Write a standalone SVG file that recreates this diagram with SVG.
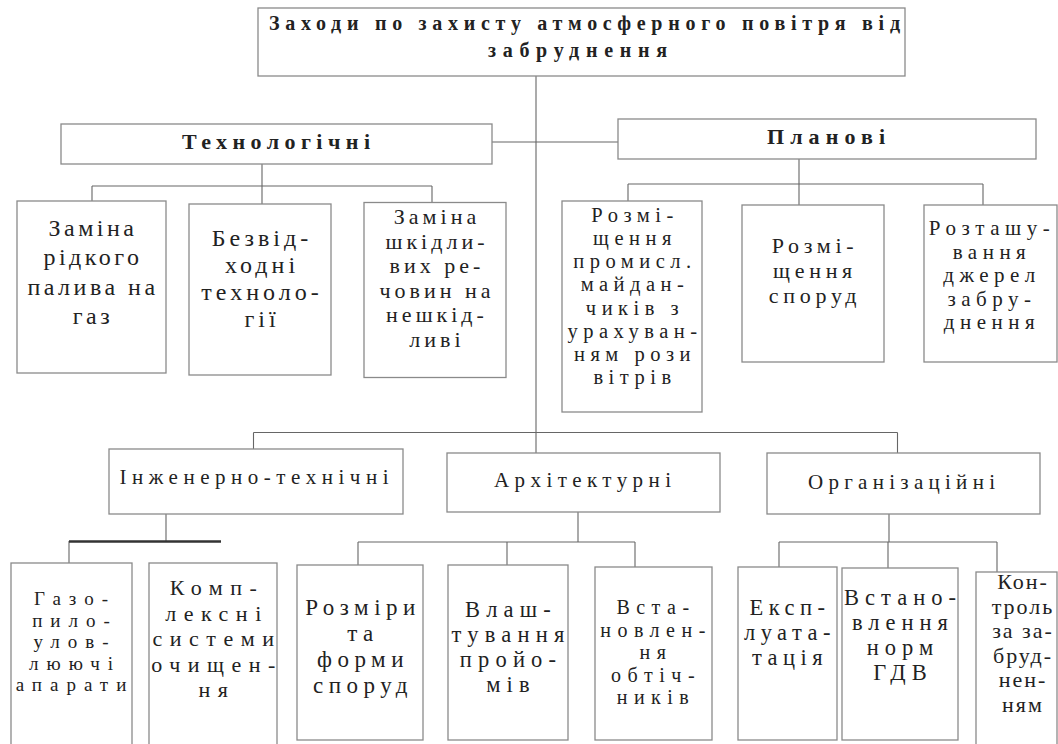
<svg xmlns="http://www.w3.org/2000/svg" width="1058" height="744" viewBox="0 0 1058 744">
<style>
rect.b{fill:#fff;stroke:#8a8a8a;stroke-width:1.3}
text{font-family:"Liberation Serif","Times New Roman","DejaVu Serif",serif;fill:#222}
.h{font-weight:bold}
.c{text-anchor:middle}
.cn path{fill:none;stroke:#666;stroke-width:1.1}
</style>
<rect width="1058" height="744" fill="#fff"/>
<g class="cn" id="connectors">
<path d="M536,76 V453"/>
<path d="M492,142 H618"/>
<path d="M262,164 V204 M92,186 H432 M92,186 V201 M432,186 V202"/>
<path d="M799,159 V205 M628,184 H983 M628,184 V201 M983,184 V205"/>
<path d="M253.5,432.5 H897.5 M253.5,432.5 V449 M897.5,432.5 V453"/>
<path d="M166,514 V541 M69,541 V563"/>
<path d="M69,541.5 H221" style="stroke:#333;stroke-width:2.6"/>
<path d="M578,512 V542 M358,542 H635 M358,542 V565 M507,542 V565 M635,542 V567"/>
<path d="M889,514 V542 M779,542 H997 M779,542 V567 M888,542 V568 M997,542 V572"/>
</g>
<g id="root"><rect class="b" x="258" y="8" width="647" height="68"/>
<text class="h" x="269" y="30" font-size="20" textLength="631" lengthAdjust="spacing">Заходи по захисту атмосферного повітря від</text>
<text class="h c" x="577.5" y="57" font-size="20" textLength="179" lengthAdjust="spacing">забруднення</text></g>
<g id="tech"><rect class="b" x="61" y="124" width="431" height="40"/>
<text class="h c" x="276" y="149" font-size="22" textLength="188" lengthAdjust="spacing">Технологічні</text></g>
<g id="plan"><rect class="b" x="618" y="119" width="418" height="40"/>
<text class="h c" x="826" y="144" font-size="22" textLength="118" lengthAdjust="spacing">Планові</text></g>
<g id="t1"><rect class="b" x="17" y="201" width="149" height="172"/>
<text class="c" font-size="24" letter-spacing="3.5"><tspan x="93" y="236">Заміна</tspan><tspan x="93" y="265">рідкого</tspan><tspan x="93" y="295">палива на</tspan><tspan x="93" y="324">газ</tspan></text></g>
<g id="t2"><rect class="b" x="189" y="204" width="142" height="171"/>
<text class="c" font-size="24" letter-spacing="4"><tspan x="262" y="246">Безвід-</tspan><tspan x="262" y="273">ходні</tspan><tspan x="262" y="300">техноло-</tspan><tspan x="262" y="327">гії</tspan></text></g>
<g id="t3"><rect class="b" x="364" y="202.5" width="142" height="175"/>
<text class="c" font-size="22" letter-spacing="4"><tspan x="437" y="224">Заміна</tspan><tspan x="437" y="248.6">шкідли-</tspan><tspan x="437" y="273.2">вих ре-</tspan><tspan x="437" y="297.8">човин на</tspan><tspan x="437" y="322.4">нешкід-</tspan><tspan x="437" y="347">ливі</tspan></text></g>
<g id="p1"><rect class="b" x="562" y="201" width="140" height="211"/>
<text class="c" font-size="20.5" letter-spacing="5.5"><tspan x="635" y="222">Розмі-</tspan><tspan x="635" y="245.1">щення</tspan><tspan x="635" y="268.3">промисл.</tspan><tspan x="635" y="291.4">майдан-</tspan><tspan x="635" y="314.6">чиків з</tspan><tspan x="635" y="337.7">урахуван-</tspan><tspan x="635" y="360.9">ням рози</tspan><tspan x="635" y="384">вітрів</tspan></text></g>
<g id="p2"><rect class="b" x="742" y="205" width="142" height="157"/>
<text class="c" font-size="22" letter-spacing="4.7"><tspan x="815" y="253">Розмі-</tspan><tspan x="815" y="278">щення</tspan><tspan x="815" y="303">споруд</tspan></text></g>
<g id="p3"><rect class="b" x="924" y="205" width="133" height="157"/>
<text class="c" font-size="21" letter-spacing="5.5"><tspan x="992" y="235">Розташу-</tspan><tspan x="992" y="258.5">вання</tspan><tspan x="992" y="282">джерел</tspan><tspan x="992" y="305.5">забру-</tspan><tspan x="992" y="329">днення</tspan></text></g>
<g id="inzh"><rect class="b" x="109" y="449" width="294" height="65"/>
<text class="c" x="254" y="484" font-size="21" textLength="269" lengthAdjust="spacing">Інженерно-технічні</text></g>
<g id="arch"><rect class="b" x="447" y="453" width="273" height="59"/>
<text class="c" x="582.5" y="487" font-size="21" textLength="177" lengthAdjust="spacing">Архітектурні</text></g>
<g id="org"><rect class="b" x="767" y="453" width="273" height="61"/>
<text class="c" x="901.5" y="489" font-size="21" textLength="187" lengthAdjust="spacing">Організаційні</text></g>
<g id="i1"><rect class="b" x="11" y="563" width="121" height="190"/>
<text class="c" font-size="19" letter-spacing="8"><tspan x="75" y="605">Газо-</tspan><tspan x="75" y="626.5">пило-</tspan><tspan x="75" y="648">улов-</tspan><tspan x="75" y="669.5">люючі</tspan><tspan x="75" y="691">апарати</tspan></text></g>
<g id="i2"><rect class="b" x="149" y="563" width="128" height="190"/>
<text class="c" font-size="22" letter-spacing="7.5"><tspan x="217" y="595">Комп-</tspan><tspan x="217" y="620.5">лексні</tspan><tspan x="217" y="646">системи</tspan><tspan x="217" y="671.5">очищен-</tspan><tspan x="217" y="697">ня</tspan></text></g>
<g id="a1"><rect class="b" x="297" y="565" width="126" height="175"/>
<text class="c" font-size="23" letter-spacing="5.5"><tspan x="363" y="615">Розміри</tspan><tspan x="363" y="641">та</tspan><tspan x="363" y="667">форми</tspan><tspan x="363" y="693">споруд</tspan></text></g>
<g id="a2"><rect class="b" x="448" y="565" width="120" height="175"/>
<text class="c" font-size="22.5" letter-spacing="6.2"><tspan x="511" y="617">Влаш-</tspan><tspan x="511" y="642">тування</tspan><tspan x="511" y="667">пройо-</tspan><tspan x="511" y="692">мів</tspan></text></g>
<g id="a3"><rect class="b" x="595" y="567" width="117" height="173"/>
<text class="c" font-size="20" letter-spacing="6.5"><tspan x="656" y="614">Вста-</tspan><tspan x="656" y="636.5">новлен-</tspan><tspan x="656" y="659">ня</tspan><tspan x="656" y="681.5">обтіч-</tspan><tspan x="656" y="704">ників</tspan></text></g>
<g id="o1"><rect class="b" x="738" y="567" width="99" height="173"/>
<text class="c" font-size="22.5" letter-spacing="5.5"><tspan x="790" y="615">Експ-</tspan><tspan x="790" y="640">луата-</tspan><tspan x="790" y="665">тація</tspan></text></g>
<g id="o2"><rect class="b" x="842" y="568" width="116" height="172"/>
<text class="c" font-size="22.5" letter-spacing="6"><tspan x="903" y="605">Встано-</tspan><tspan x="903" y="630">влення</tspan><tspan x="903" y="655">норм</tspan><tspan x="903" y="680">ГДВ</tspan></text></g>
<g id="o3"><rect class="b" x="976" y="572" width="81" height="181"/>
<text class="c" font-size="22" letter-spacing="2"><tspan x="1023" y="589">Кон-</tspan><tspan x="1023" y="613.6">троль</tspan><tspan x="1023" y="638.2">за за-</tspan><tspan x="1023" y="662.8">бруд-</tspan><tspan x="1023" y="687.4">нен-</tspan><tspan x="1023" y="712">ням</tspan></text></g>
</svg>
